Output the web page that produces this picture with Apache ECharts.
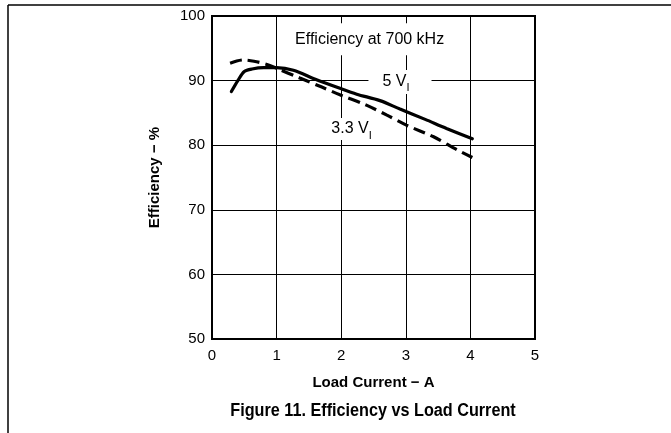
<!DOCTYPE html>
<html>
<head>
<meta charset="utf-8">
<script src="https://cdn.jsdelivr.net/npm/echarts@6/dist/echarts.min.js"></script>
<style>
  html, body { margin: 0; padding: 0; background: #fff; }
  #chart { width: 671px; height: 433px; }
</style>
</head>
<body>
<div id="chart"></div>
<script>
// load current (A) and efficiency (%)
const current5V = [0.30, 0.40, 0.50, 0.62, 0.80, 1.00, 1.26, 1.60, 1.98, 2.24, 2.60, 2.91, 3.30, 3.63, 4.03]
const eff5V = [88.3, 90.0, 91.4, 91.8, 92.0, 92.0, 91.6, 90.2, 88.8, 87.9, 86.9, 85.6, 84.0, 82.6, 81.0]
const current33V = [0.28, 0.48, 0.65, 0.85, 1.00, 1.36, 1.70, 1.98, 2.39, 2.70, 3.01, 3.43, 3.79, 4.03]
const eff33V = [92.7, 93.2, 93.0, 92.5, 91.9, 90.4, 89.0, 87.8, 86.2, 84.7, 83.1, 81.3, 79.3, 78.1]
const xTicks = [0, 1, 2, 3, 4, 5]
const yTicks = [50, 60, 70, 80, 90, 100]

const font = 'Liberation Sans, Arial, Helvetica, sans-serif'
const chart = echarts.init(document.getElementById('chart'))

const toPairs = (xs, ys) => xs.map((x, i) => [x, ys[i]])

chart.setOption({
  animation: false,
  backgroundColor: '#fff',
  grid: {
    left: 212, top: 16, right: 136, bottom: 94,
    show: true, borderColor: '#000', borderWidth: 2, backgroundColor: '#fff'
  },
  xAxis: {
    type: 'value',
    min: xTicks[0], max: xTicks[xTicks.length - 1], interval: 1,
    name: 'Load Current \u2212 A',
    nameLocation: 'middle',
    nameGap: 36,
    nameTextStyle: { fontFamily: font, fontSize: 15, fontWeight: 'bold', color: '#000' },
    axisLine: { show: false },
    axisTick: { show: false },
    axisLabel: { fontFamily: font, fontSize: 15, color: '#000', margin: 9 },
    splitLine: { show: true, lineStyle: { color: '#000', width: 1 } }
  },
  yAxis: {
    type: 'value',
    min: yTicks[0], max: yTicks[yTicks.length - 1], interval: 10,
    name: 'Efficiency \u2212 %',
    nameLocation: 'middle',
    nameGap: 50,
    nameTextStyle: { fontFamily: font, fontSize: 15, fontWeight: 'bold', color: '#000' },
    axisLine: { show: false },
    axisTick: { show: false },
    axisLabel: { fontFamily: font, fontSize: 15, color: '#000', margin: 7 },
    splitLine: { show: true, lineStyle: { color: '#000', width: 1 } }
  },
  series: [
    {
      name: '5 V',
      type: 'line',
      data: toPairs(current5V, eff5V),
      smooth: 0.3,
      showSymbol: false,
      z: 5,
      lineStyle: { color: '#000', width: 3.2, cap: 'round' }
    },
    {
      name: '3.3 V',
      type: 'line',
      data: toPairs(current33V, eff33V),
      smooth: 0.3,
      showSymbol: false,
      z: 5,
      lineStyle: { color: '#000', width: 3.2, type: [12, 6] }
    }
  ]
})

// annotation labels, white boxes cut the grid lines like the original
function label (x, y, main, sub, pad) {
  const p = chart.convertToPixel({ gridIndex: 0 }, [x, y])
  const rich = {
    m: { fontFamily: font, fontSize: 16, color: '#000' },
    s: { fontFamily: font, fontSize: 11, color: '#000', verticalAlign: 'bottom', padding: [0, 0, -4, 0] }
  }
  return {
    type: 'text',
    x: p[0], y: p[1], z: 3,
    style: {
      text: sub ? '{m|' + main + '}{s|' + sub + '}' : '{m|' + main + '}',
      rich: rich,
      align: 'center', verticalAlign: 'middle',
      backgroundColor: '#fff',
      padding: pad
    }
  }
}

chart.setOption({
  graphic: [
    { type: 'line', shape: { x1: 8, y1: 5, x2: 671, y2: 5 }, style: { stroke: '#000', lineWidth: 1.5 } },
    { type: 'line', shape: { x1: 8, y1: 5, x2: 8, y2: 433 }, style: { stroke: '#000', lineWidth: 1.5 } },
    label(2.44, 96.4, 'Efficiency at 700 kHz', null, [8, 6, 8, 6]),
    label(2.91, 89.8, '5 V', 'I', [4, 22, 4, 14]),
    label(2.16, 82.5, '3.3 V', 'I', [3, 6, 3, 6]),
    {
      type: 'text',
      x: 373, y: 411, z: 3,
      scaleX: 0.9,
      style: {
        text: 'Figure 11. Efficiency vs Load Current',
        fontFamily: font, fontSize: 18, fontWeight: 'bold', fill: '#000',
        align: 'center', verticalAlign: 'middle'
      }
    }
  ]
})
</script>
</body>
</html>
